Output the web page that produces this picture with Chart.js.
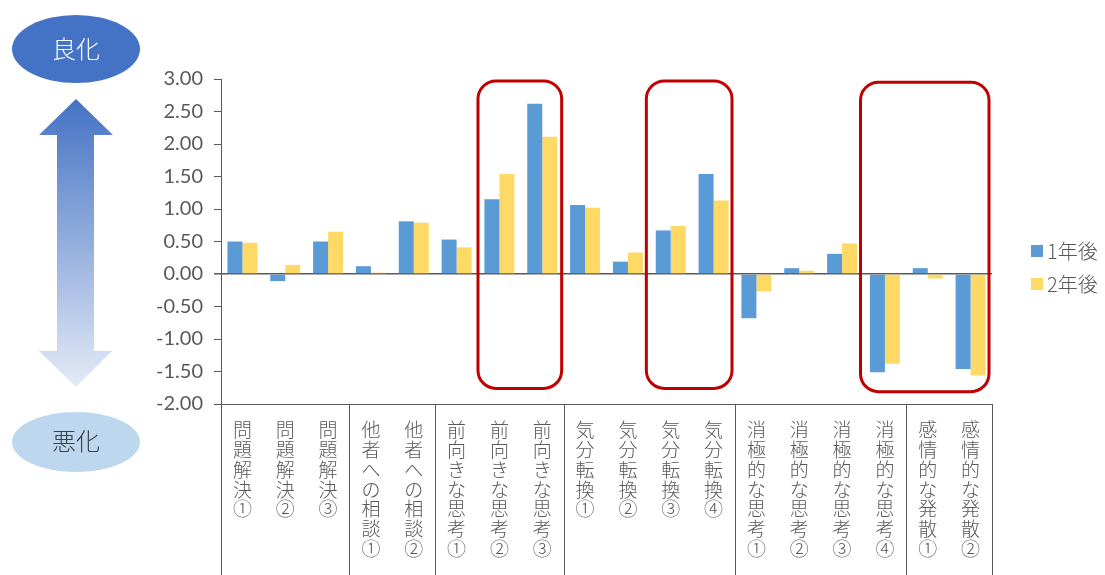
<!DOCTYPE html>
<html>
<head>
<meta charset="utf-8">
<script src="https://cdn.jsdelivr.net/npm/chart.js@4"></script>
<style>
  html, body { margin: 0; padding: 0; background: #ffffff; }
  #wrap { width: 1105px; height: 575px; position: relative; }
</style>
</head>
<body>
<div id="wrap"><canvas id="c" width="1105" height="575"></canvas></div>
<script>
// ---- data ----
const categories = [
  '問題解決①','問題解決②','問題解決③',
  '他者への相談①','他者への相談②',
  '前向きな思考①','前向きな思考②','前向きな思考③',
  '気分転換①','気分転換②','気分転換③','気分転換④',
  '消極的な思考①','消極的な思考②','消極的な思考③','消極的な思考④',
  '感情的な発散①','感情的な発散②'
];
const groupSizes = [3, 2, 3, 4, 4, 2];
const seriesNames = ['1年後', '2年後'];
const year1 = [0.50, -0.11, 0.50, 0.12, 0.81, 0.53, 1.15, 2.62, 1.06, 0.19, 0.67, 1.54, -0.68, 0.09, 0.31, -1.51, 0.09, -1.46];
const year2 = [0.48, 0.14, 0.65, 0.02, 0.79, 0.41, 1.54, 2.11, 1.02, 0.33, 0.74, 1.13, -0.27, 0.05, 0.47, -1.38, -0.07, -1.56];
const yMin = -2, yMax = 3, yStep = 0.5;
const highlightRanges = [[6, 7], [10, 11], [15, 17]];
const sideLabels = ['良化', '悪化'];

const GRAY = '#595959';

const decorPlugin = {
  id: 'decor',
  beforeDraw(chart) {
    const ctx = chart.ctx;
    ctx.save();
    ctx.fillStyle = '#ffffff';
    ctx.fillRect(0, 0, chart.width, chart.height);
    ctx.restore();
  },
  afterDraw(chart) {
    const ctx = chart.ctx;
    const xs = chart.scales.x, ys = chart.scales.y;
    const area = chart.chartArea;
    const cw = xs.getPixelForValue(1) - xs.getPixelForValue(0);
    const edge = i => (i < categories.length ? xs.getPixelForValue(i) - cw / 2 : xs.getPixelForValue(categories.length - 1) + cw / 2);

    // category group lines
    ctx.save();
    ctx.strokeStyle = GRAY;
    ctx.lineWidth = 1;
    let idx = 0;
    const bounds = [0];
    groupSizes.forEach(s => { idx += s; bounds.push(idx); });
    bounds.forEach(b => {
      const x = Math.round(edge(b)) + 0.5;
      ctx.beginPath();
      ctx.moveTo(x, area.bottom);
      ctx.lineTo(x, chart.height);
      ctx.stroke();
    });
    ctx.restore();

    // red highlight boxes
    ctx.save();
    ctx.strokeStyle = '#C00000';
    ctx.lineWidth = 3;
    highlightRanges.forEach(([a, b], k) => {
      const l = edge(a) - (k === 0 ? 0 : 3);
      const r = edge(b + 1) - (k === 0 ? 2 : 3);
      const t = ys.getPixelForValue(k === 2 ? 2.95 : 2.97);
      const btm = ys.getPixelForValue(k === 2 ? -1.81 : -1.76);
      ctx.beginPath();
      ctx.roundRect(l, t, r - l, btm - t, 18);
      ctx.stroke();
    });
    ctx.restore();

    // legend
    ctx.save();
    ctx.font = '300 20px "Noto Sans CJK JP", sans-serif';
    ctx.textBaseline = 'middle';
    chart.data.datasets.forEach((ds, i) => {
      const cy = 251 + i * 33;
      ctx.fillStyle = ds.backgroundColor;
      ctx.fillRect(1031, cy - 6, 12, 12);
      ctx.fillStyle = GRAY;
      ctx.fillText(ds.label, 1047, cy);
    });
    ctx.restore();

    // left side indicator
    ctx.save();
    ctx.fillStyle = '#4472C4';
    ctx.beginPath();
    ctx.ellipse(76, 49, 64, 34, 0, 0, Math.PI * 2);
    ctx.fill();
    ctx.fillStyle = '#BDD7EE';
    ctx.beginPath();
    ctx.ellipse(76, 442, 64, 30, 0, 0, Math.PI * 2);
    ctx.fill();

    const g = ctx.createLinearGradient(0, 99, 0, 387);
    g.addColorStop(0, '#4472C4');
    g.addColorStop(0.5, '#93AEDD');
    g.addColorStop(1, '#E4EBF7');
    ctx.fillStyle = g;
    ctx.beginPath();
    ctx.moveTo(76, 99);
    ctx.lineTo(113, 135);
    ctx.lineTo(94, 135);
    ctx.lineTo(94, 351);
    ctx.lineTo(112, 351);
    ctx.lineTo(76, 387);
    ctx.lineTo(39, 351);
    ctx.lineTo(57, 351);
    ctx.lineTo(57, 135);
    ctx.lineTo(39, 135);
    ctx.closePath();
    ctx.fill();

    ctx.font = '300 24px "Noto Sans CJK JP", sans-serif';
    ctx.textAlign = 'center';
    ctx.textBaseline = 'middle';
    ctx.fillStyle = '#ffffff';
    ctx.fillText(sideLabels[0], 76, 49);
    ctx.fillStyle = '#404040';
    ctx.fillText(sideLabels[1], 76, 441);
    ctx.restore();
  }
};

new Chart(document.getElementById('c'), {
  type: 'bar',
  data: {
    labels: categories.map(s => Array.from(s)),
    datasets: [
      { label: seriesNames[0], data: year1, backgroundColor: '#5B9BD5', borderWidth: 0 },
      { label: seriesNames[1], data: year2, backgroundColor: '#FFD966', borderWidth: 0 }
    ]
  },
  options: {
    responsive: false,
    animation: false,
    devicePixelRatio: 1,
    layout: { padding: { left: 150, right: 113, top: 79, bottom: 0 } },
    datasets: { bar: { categoryPercentage: 0.7, barPercentage: 1.0 } },
    plugins: { legend: { display: false }, tooltip: { enabled: false } },
    scales: {
      x: {
        grid: { display: true, drawOnChartArea: false, drawTicks: false },
        border: { display: true, color: GRAY, width: 1 },
        ticks: {
          autoSkip: false, maxRotation: 0, minRotation: 0, padding: 16,
          color: GRAY,
          font: { family: '"Noto Sans CJK JP", sans-serif', size: 19, weight: '300', lineHeight: '19.8px' }
        },
        afterFit(scale) { scale.height = 171; }
      },
      y: {
        min: yMin, max: yMax,
        ticks: {
          stepSize: yStep, padding: 11, color: GRAY,
          font: { family: 'Lato, sans-serif', size: 20 },
          callback: v => Number(v).toFixed(2)
        },
        grid: {
          drawOnChartArea: true, drawTicks: true, tickLength: 7, tickColor: GRAY,
          color: c => (c.tick && c.tick.value === 0 ? GRAY : 'rgba(0,0,0,0)'),
          lineWidth: c => (c.tick && c.tick.value === 0 ? 1.5 : 1)
        },
        border: { display: true, color: GRAY, width: 1 },
        afterFit(scale) { scale.width = 71; }
      }
    }
  },
  plugins: [decorPlugin]
});
</script>
</body>
</html>
